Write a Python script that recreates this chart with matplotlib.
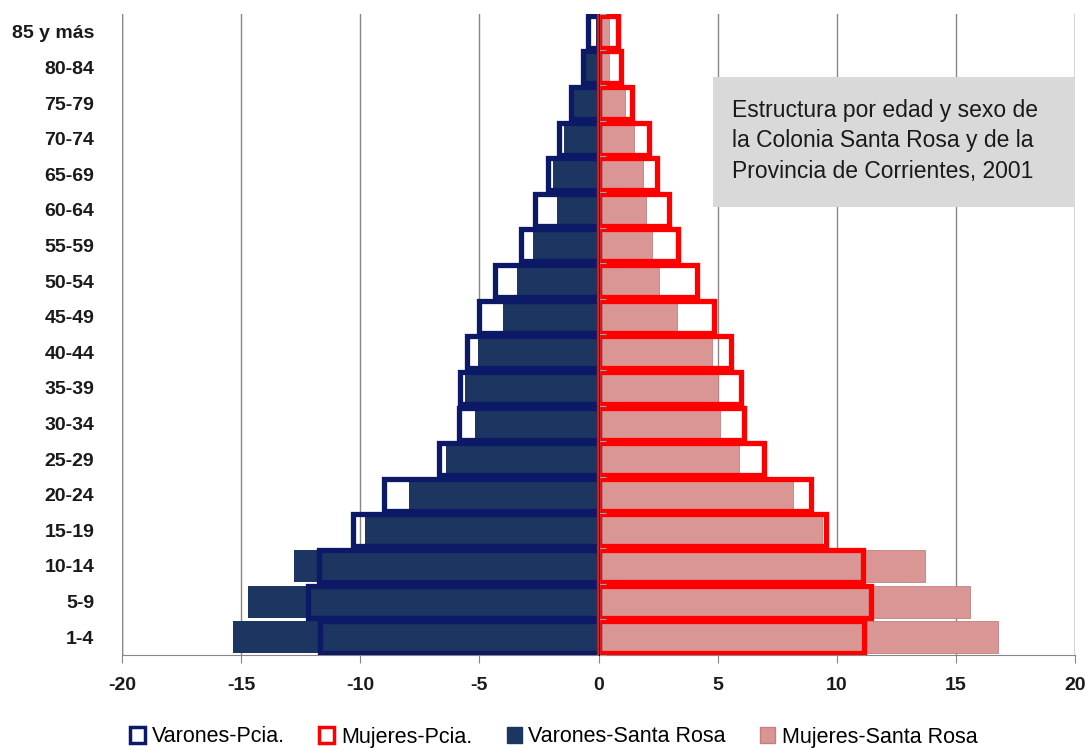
import matplotlib
matplotlib.use("Agg")
import matplotlib.pyplot as plt
from matplotlib.patches import Patch, Rectangle
import numpy as np

plt.rcParams['font.family'] = ['Liberation Sans', 'DejaVu Sans']
plt.rcParams['axes.unicode_minus'] = False

edades = ["1-4", "5-9", "10-14", "15-19", "20-24", "25-29", "30-34", "35-39",
          "40-44", "45-49", "50-54", "55-59", "60-64", "65-69", "70-74",
          "75-79", "80-84", "85 y más"]

# porcentajes por grupo de edad
varones_pcia = [11.7, 12.2, 11.75, 10.3, 9.0, 6.7, 5.85, 5.8, 5.5, 5.0,
                4.35, 3.25, 2.65, 2.1, 1.65, 1.15, 0.63, 0.42]
mujeres_pcia = [11.15, 11.45, 11.1, 9.55, 8.9, 6.95, 6.1, 6.0, 5.55, 4.85,
                4.15, 3.35, 2.95, 2.45, 2.1, 1.4, 0.95, 0.8]
varones_sr = [15.35, 14.7, 12.8, 9.8, 7.95, 6.4, 5.2, 5.6, 5.05, 4.0,
              3.4, 2.75, 1.75, 1.9, 1.45, 1.2, 0.65, 0.12]
mujeres_sr = [16.75, 15.6, 13.7, 9.4, 8.15, 5.9, 5.1, 5.0, 4.75, 3.3,
              2.55, 2.25, 2.0, 1.85, 1.5, 1.1, 0.45, 0.45]

azul = "#1c3661"
azul_borde = "#0b1966"
rosa = "#d99694"
rojo = "#ff0000"
gris = "#868686"

y = np.arange(len(edades))
alto = 0.9

fig = plt.figure(figsize=(10.9, 7.48), dpi=100)
ax = fig.add_axes([122 / 1090, 1 - 655 / 748, (1075 - 122) / 1090, (655 - 14) / 748])

# Santa Rosa: barras rellenas
ax.barh(y, -np.array(varones_sr), height=alto, color=azul, zorder=2)
ax.barh(y, mujeres_sr, height=alto, color=rosa, edgecolor="#c08080",
        linewidth=0.6, zorder=2)

# Provincia: solo contorno
ax.barh(y, -np.array(varones_pcia), height=alto, facecolor="none",
        edgecolor=azul_borde, linewidth=3.8, zorder=3)
ax.barh(y, mujeres_pcia, height=alto, facecolor="none",
        edgecolor=rojo, linewidth=3.8, zorder=3)

ax.set_xlim(-20, 20)
ax.set_ylim(-0.5, len(edades) - 0.5)
ax.set_xticks(np.arange(-20, 21, 5))
ax.set_yticks(y)
ax.set_yticklabels(edades)

for lbl in ax.get_xticklabels() + ax.get_yticklabels():
    lbl.set_fontweight("bold")
    lbl.set_fontsize(14)
    lbl.set_color("#1a1a1a")

ax.tick_params(axis="y", length=0, pad=20)
ax.tick_params(axis="x", length=6, color=gris, pad=10)

for s in ["top", "right", "left"]:
    ax.spines[s].set_visible(False)
ax.spines["bottom"].set_color(gris)

ax.grid(axis="x", color=gris, linewidth=1, zorder=0)
ax.set_axisbelow(True)
for xv in (-20, 20):
    ax.axvline(xv, color=gris, linewidth=1, zorder=0)

# eje central con marcas entre categorías
ax.axvline(0, color="#9aa3b5", linewidth=1, zorder=4)
eje = ax.secondary_yaxis(0.5)
eje.set_zorder(4)
eje.set_yticks(np.arange(-0.5, len(edades), 1))
eje.set_yticklabels([])
eje.tick_params(length=5, color="#9aa3b5")
eje.spines["left"].set_visible(False)

# recuadro con el título
fig.patches.append(Rectangle((713 / 1090, 1 - 207 / 748), (1075 - 713) / 1090,
                             (207 - 77) / 748, transform=fig.transFigure,
                             facecolor="#d9d9d9", edgecolor="none", zorder=5))
fig.text(732 / 1090, 1 - 141 / 748,
         "Estructura por edad y sexo de\nla Colonia Santa Rosa y de la\nProvincia de Corrientes, 2001",
         fontsize=16.5, color="#1a1a1a", va="center", ha="left",
         linespacing=1.4, zorder=6)

handles = [
    Patch(facecolor="white", edgecolor=azul_borde, linewidth=2.5, label="Varones-Pcia."),
    Patch(facecolor="white", edgecolor=rojo, linewidth=2.5, label="Mujeres-Pcia."),
    Patch(facecolor=azul, edgecolor=azul, label="Varones-Santa Rosa"),
    Patch(facecolor=rosa, edgecolor="#c08080", label="Mujeres-Santa Rosa"),
]
fig.legend(handles=handles, loc="center", bbox_to_anchor=(0.508, 1 - 737 / 748),
           ncol=4, frameon=False, fontsize=15.5, handlelength=0.7,
           handleheight=0.7, handletextpad=0.3, columnspacing=1.6)

fig.savefig("out.png", dpi=100)
